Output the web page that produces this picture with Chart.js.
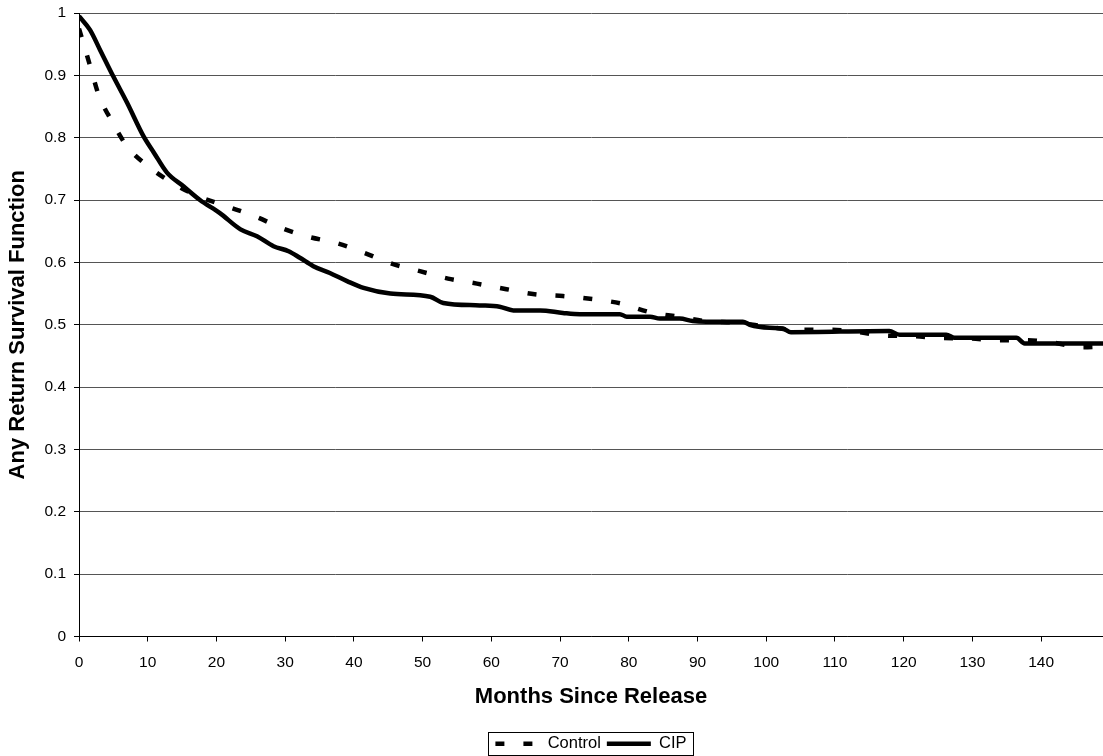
<!DOCTYPE html>
<html>
<head>
<meta charset="utf-8">
<script src="https://cdn.jsdelivr.net/npm/chart.js@4/dist/chart.umd.min.js"></script>
<style>
  html, body { margin: 0; padding: 0; background: #fff; }
  #wrap { width: 1103px; height: 756px; position: relative; }
</style>
</head>
<body>
<div id="wrap"><canvas id="myChart"></canvas></div>
<script>
// Dados (meses desde a libertação / função de sobrevivência)
const controlMonths = [0, 1.65, 2.85, 4.8, 7.0, 10.1, 13.5, 17.4, 21.5, 25.6, 29.5, 33.4, 37.5, 41.6, 45.5, 49.6,
  53.7, 57.9, 62.2, 66.3, 70.4, 74.8, 78.9, 83.1, 87.2, 91.0, 96.0, 100.0, 104.1, 108.2, 112.4, 116.7,
  120.9, 125.2, 129.5, 133.7, 137.8, 141.9, 146.0, 149];
const controlSurvival = [0.975, 0.914, 0.869, 0.826, 0.786, 0.754, 0.728, 0.706, 0.690, 0.674, 0.655, 0.641, 0.631, 0.615, 0.598, 0.586,
  0.574, 0.566, 0.557, 0.549, 0.546, 0.541, 0.534, 0.520, 0.513, 0.506, 0.503, 0.497, 0.492, 0.492, 0.490, 0.483,
  0.482, 0.479, 0.478, 0.475, 0.475, 0.471, 0.464, 0.465];

const cipMonths = [0, 1.6, 3.1, 5.0, 7.0, 9.4, 10.9, 12.8, 15.2, 17.6, 20.5, 23.5, 25.9, 28.3, 30.5, 32.2,
  34.1, 36.5, 39.0, 41.4, 45.3, 51.1, 53.0, 58.3, 61.2, 63.2, 67.1, 70.4, 72.9, 78.7, 79.7, 83.1,
  84.5, 87.4, 89.3, 91.3, 96.6, 97.6, 100.5, 102.4, 103.6, 117.9, 119.4, 126.2, 127.4, 136.4, 137.6, 149];
const cipSurvival = [0.995, 0.973, 0.94, 0.898, 0.856, 0.802, 0.776, 0.744, 0.722, 0.700, 0.679, 0.653, 0.642, 0.626, 0.618, 0.607,
  0.594, 0.583, 0.570, 0.559, 0.550, 0.545, 0.535, 0.531, 0.529, 0.523, 0.523, 0.519, 0.517, 0.517, 0.513, 0.513,
  0.510, 0.510, 0.506, 0.505, 0.505, 0.500, 0.495, 0.494, 0.488, 0.490, 0.484, 0.484, 0.479, 0.479, 0.470, 0.470];

const xTitle = 'Months Since Release';
const yTitle = 'Any Return Survival Function';

function pares(xs, ys) {
    return xs.map((x, i) => ({ x: x, y: ys[i] }));
}

// Moldura à volta da legenda
const caixaLegenda = {
    id: 'caixaLegenda',
    afterDraw(chart) {
        const boxes = chart.legend && chart.legend.legendHitBoxes;
        if (!boxes || !boxes.length) return;
        const left = Math.min(...boxes.map(b => b.left));
        const right = Math.max(...boxes.map(b => b.left + b.width));
        const mid = boxes[0].top + boxes[0].height / 2;
        const ctx = chart.ctx;
        ctx.save();
        ctx.strokeStyle = '#000';
        ctx.lineWidth = 1;
        ctx.setLineDash([]);
        ctx.strokeRect(Math.round(left - 7) + 0.5, Math.round(mid - 11.5) + 0.5, Math.round(right - left + 14), 23);
        ctx.restore();
    }
};

Chart.defaults.font.family = '"Liberation Sans", Arial, sans-serif';
Chart.defaults.color = '#000';

const config = {
    type: 'line',
    data: {
        datasets: [{
            label: 'Control',
            data: pares(controlMonths, controlSurvival),
            borderColor: '#000',
            borderWidth: 4.5,
            borderDash: [9, 19],
            borderCapStyle: 'butt',
            pointRadius: 0,
            pointStyle: 'line',
            cubicInterpolationMode: 'monotone',
            fill: false
        }, {
            label: 'CIP',
            data: pares(cipMonths, cipSurvival),
            borderColor: '#000',
            borderWidth: 4.5,
            pointRadius: 0,
            pointStyle: 'line',
            cubicInterpolationMode: 'monotone',
            fill: false
        }]
    },
    options: {
        responsive: true,
        maintainAspectRatio: false,
        animation: false,
        layout: { padding: { top: 13, right: 0, bottom: -6, left: 0 } },
        plugins: {
            tooltip: { enabled: false },
            legend: {
                position: 'bottom',
                fullSize: false,
                labels: {
                    usePointStyle: true,
                    pointStyleWidth: 44,
                    padding: 6,
                    font: { size: 16.5 },
                    generateLabels(chart) {
                        const itens = Chart.defaults.plugins.legend.labels.generateLabels(chart);
                        itens.forEach(item => {
                            const ds = chart.data.datasets[item.datasetIndex];
                            item.lineDash = ds.borderDash || [];
                            item.lineWidth = 4.5;
                            item.lineCap = 'butt';
                            item.strokeStyle = '#000';
                        });
                        return itens;
                    }
                }
            }
        },
        scales: {
            x: {
                type: 'linear',
                min: 0,
                max: 149,
                grid: { drawOnChartArea: false, drawTicks: true, tickLength: 5, color: '#000' },
                border: { color: '#000', width: 1 },
                ticks: { stepSize: 10, includeBounds: false, padding: 12, font: { size: 15.5 }, maxRotation: 0 },
                title: { display: true, text: xTitle, font: { size: 22, weight: 'bold' }, padding: { top: 0, bottom: 19 } }
            },
            y: {
                min: 0,
                max: 1,
                grid: { color: '#555', tickColor: '#000', tickLength: 5 },
                border: { color: '#000', width: 1 },
                ticks: {
                    stepSize: 0.1,
                    padding: 8,
                    font: { size: 15.5 },
                    callback: v => String(Math.round(v * 10) / 10)
                },
                title: { display: true, text: yTitle, font: { size: 22, weight: 'bold' }, padding: { top: 5, bottom: 4 } },
                afterFit(scale) {
                    scale.width = 79;
                    scale.paddingTop = 0;
                    scale.paddingBottom = 0;
                }
            }
        }
    },
    plugins: [caixaLegenda]
};

const ctx = document.getElementById('myChart');
const myChart = new Chart(ctx, config);
</script>
</body>
</html>
